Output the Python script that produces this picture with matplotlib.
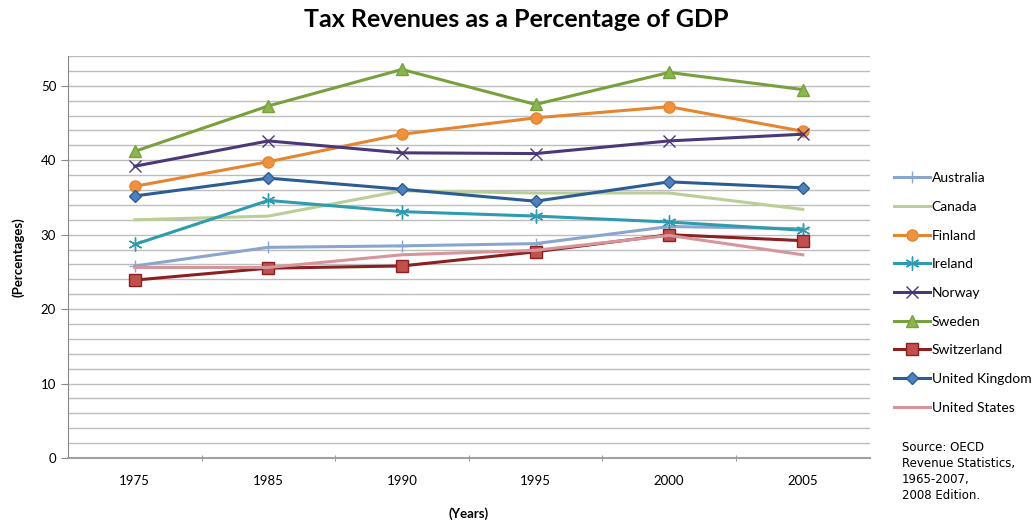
import numpy as np
import matplotlib
matplotlib.use("Agg")
import matplotlib.pyplot as plt
from matplotlib.ticker import MultipleLocator

# Values
years = ["1975", "1985", "1990", "1995", "2000", "2005"]
countries = ["Australia", "Canada", "Finland", "Ireland", "Norway",
             "Sweden", "Switzerland", "United Kingdom", "United States"]

australia = [25.8, 28.3, 28.5, 28.8, 31.1, 30.8]
canada = [32.0, 32.5, 35.9, 35.6, 35.6, 33.4]
finland = [36.5, 39.8, 43.5, 45.7, 47.2, 43.9]
ireland = [28.7, 34.6, 33.1, 32.5, 31.7, 30.6]
norway = [39.2, 42.6, 41.0, 40.9, 42.6, 43.5]
sweden = [41.2, 47.3, 52.2, 47.5, 51.8, 49.5]
switzerland = [23.9, 25.5, 25.8, 27.7, 30.0, 29.2]
uk = [35.2, 37.6, 36.1, 34.5, 37.1, 36.3]
us = [25.6, 25.6, 27.3, 27.9, 29.9, 27.3]

series = [australia, canada, finland, ireland, norway, sweden, switzerland, uk, us]

# line colour, marker, marker face colour, marker size
styles = [
    ("#8AA6CE", "+", "#8AA6CE", 9),
    ("#BACE98", None, None, 0),
    ("#E5852F", "o", "#F0913D", 8),
    ("#2E9BAF", (6, 2, 0), "#4BACC6", 10),
    ("#4A3878", "x", "#8064A2", 8),
    ("#77A13D", "^", "#8BB54E", 8),
    ("#8C1F1F", "s", "#C0504D", 8),
    ("#2B5C93", "D", "#4F81BD", 6),
    ("#D6959A", None, None, 0),
]

fig = plt.figure(figsize=(10.33, 5.24), dpi=100)
ax = fig.add_axes([0.0658, 0.126, 0.776, 0.767])

x = np.arange(len(years))
for name, vals, (col, mk, mfc, ms) in zip(countries, series, styles):
    ax.plot(x, vals, color=col, lw=2.2, marker=mk, markersize=ms,
            markerfacecolor=mfc, markeredgecolor=col,
            markeredgewidth=1.0, label=name, zorder=3)

ax.set_xlim(-0.5, len(years) - 0.5)
ax.set_ylim(0, 54)

ax.set_xticks(x)
ax.set_xticklabels(years, fontsize=9.5, family="Lato")
ax.set_xticks(np.arange(0.5, len(years) - 0.5, 1.0), minor=True)
ax.tick_params(axis="x", which="major", length=0, pad=12)
ax.tick_params(axis="x", which="minor", length=5, direction="inout", color="#888888")

ax.yaxis.set_major_locator(MultipleLocator(10))
ax.yaxis.set_minor_locator(MultipleLocator(2))
ax.tick_params(axis="y", which="major", length=5, color="#888888", labelsize=9.5)
ax.tick_params(axis="y", which="minor", length=0)
for lbl in ax.get_yticklabels():
    lbl.set_family("Lato")

ax.grid(axis="y", which="both", color="#BDBDBD", lw=1.0, zorder=0)
ax.set_axisbelow(True)

for side in ("top", "right"):
    ax.spines[side].set_visible(False)
ax.spines["left"].set_color("#888888")
ax.spines["bottom"].set_color("#A0A0A0")
ax.spines["bottom"].set_linewidth(1.5)

ax.set_ylabel("(Percentages)", fontsize=9.5, fontweight="bold", family="Lato", labelpad=12)
ax.set_xlabel("(Years)", fontsize=9.5, fontweight="bold", family="Lato", labelpad=15)

fig.suptitle("Tax Revenues as a Percentage of GDP", x=0.5, y=0.985,
             fontsize=18, fontweight="bold", family="Lato")

fig.legend(loc="upper left", bbox_to_anchor=(0.853, 0.695), frameon=False,
           prop={"family": "Lato", "size": 10}, handlelength=2.6,
           handletextpad=0.15, labelspacing=1.2)

fig.text(0.873, 0.158, "Source: OECD\nRevenue Statistics,\n1965-2007,\n2008 Edition.",
         fontsize=8.5, family="DejaVu Sans", va="top", linespacing=1.3)

fig.savefig("out.png", dpi=100)
